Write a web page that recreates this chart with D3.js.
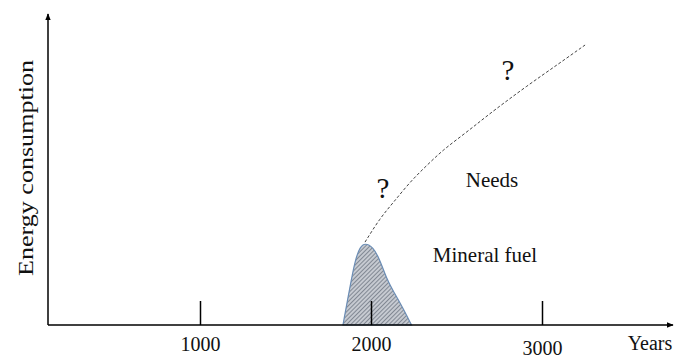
<!DOCTYPE html>
<html>
<head>
<meta charset="utf-8">
<script src="https://cdn.jsdelivr.net/npm/d3@7"></script>
<style>
  body { margin: 0; background: #fff; }
  text { font-family: "Liberation Serif", "Times New Roman", serif; fill: #111; }
</style>
</head>
<body>
<script>
// tick years on the time axis
const tickYears = [1000, 2000, 3000];

// fossil ("mineral") fuel hump: years and relative consumption
const fuelYears = [1833, 1874, 1904, 1933, 1962, 2009, 2050, 2091, 2134, 2181, 2234];
const fuelValues = [0, 13.6, 23.2, 27.9, 29.3, 27.9, 23.2, 16.1, 11.4, 6.4, 0];

// projected needs (dashed curve)
const needYears = [1962, 2050, 2126, 2225, 2325, 2418, 2518, 2623, 2711, 2909, 3102, 3249];
const needValues = [29.6, 38.2, 43.6, 51.1, 57.1, 62.5, 67.1, 72.1, 76.4, 85.4, 93.6, 100];

const width = 675, height = 360;

const x = d3.scaleLinear().domain([1000, 3000]).range([200.5, 542.5]);
const y = d3.scaleLinear().domain([0, 100]).range([325, 45]);

const x0 = 48, y0 = 325;

const svg = d3.select("body").append("svg")
    .attr("width", width)
    .attr("height", height);

const defs = svg.append("defs");

const hatch = defs.append("pattern")
    .attr("id", "hatch")
    .attr("patternUnits", "userSpaceOnUse")
    .attr("width", 3)
    .attr("height", 3)
    .attr("patternTransform", "rotate(45)");
hatch.append("rect")
    .attr("width", 3).attr("height", 3)
    .attr("fill", "#c6cad1");
hatch.append("line")
    .attr("x1", 0).attr("y1", 0).attr("x2", 0).attr("y2", 3)
    .attr("stroke", "#5b6472")
    .attr("stroke-width", 1.3);

defs.append("marker")
    .attr("id", "arrow")
    .attr("viewBox", "0 0 10 10")
    .attr("refX", 9).attr("refY", 5)
    .attr("markerWidth", 7).attr("markerHeight", 7)
    .attr("markerUnits", "userSpaceOnUse")
    .attr("orient", "auto")
  .append("path")
    .attr("d", "M0,1L10,5L0,9Z")
    .attr("fill", "#000");

// fuel hump
const fuelData = fuelYears.map((d, i) => ({year: d, value: fuelValues[i]}));
const area = d3.area()
    .x(d => x(d.year))
    .y0(y(0))
    .y1(d => y(d.value))
    .curve(d3.curveBasis);
svg.append("path")
    .datum(fuelData)
    .attr("d", area)
    .attr("fill", "url(#hatch)")
    .attr("stroke", "#6b8db5")
    .attr("stroke-width", 1.2);

// tick marks (drawn upward from the axis)
svg.selectAll(".tick-mark")
    .data(tickYears)
    .enter().append("line")
    .attr("class", "tick-mark")
    .attr("x1", d => x(d)).attr("x2", d => x(d))
    .attr("y1", y0).attr("y2", y0 - 24)
    .attr("stroke", "#000")
    .attr("stroke-width", 1.5);

const labelDy = [26, 26, 30];
svg.selectAll(".tick-label")
    .data(tickYears)
    .enter().append("text")
    .attr("class", "tick-label")
    .attr("x", d => x(d))
    .attr("y", (d, i) => y0 + labelDy[i])
    .attr("text-anchor", "middle")
    .style("font-size", "20px")
    .text(d => d);

// axes
svg.append("line")
    .attr("x1", x0).attr("y1", y0)
    .attr("x2", 673).attr("y2", y0)
    .attr("stroke", "#000").attr("stroke-width", 1.5)
    .attr("marker-end", "url(#arrow)");
svg.append("line")
    .attr("x1", x0).attr("y1", y0)
    .attr("x2", x0).attr("y2", 14)
    .attr("stroke", "#000").attr("stroke-width", 1.5)
    .attr("marker-end", "url(#arrow)");

// needs curve
const needData = needYears.map((d, i) => ({year: d, value: needValues[i]}));
const line = d3.line()
    .x(d => x(d.year))
    .y(d => y(d.value))
    .curve(d3.curveBasis);
svg.append("path")
    .datum(needData)
    .attr("d", line)
    .attr("fill", "none")
    .attr("stroke", "#444")
    .attr("stroke-width", 1)
    .attr("stroke-dasharray", "3,2");

// labels
svg.append("text")
    .attr("x", 650).attr("y", 350)
    .attr("text-anchor", "middle")
    .style("font-size", "20px")
    .text("Years");

svg.append("text")
    .attr("transform", "translate(33,168) rotate(-90)")
    .attr("text-anchor", "middle")
    .attr("textLength", 216)
    .attr("lengthAdjust", "spacingAndGlyphs")
    .style("font-size", "21px")
    .text("Energy consumption");

svg.append("text")
    .attr("x", 492).attr("y", 187)
    .attr("text-anchor", "middle")
    .style("font-size", "21px")
    .text("Needs");

svg.append("text")
    .attr("x", 485).attr("y", 262)
    .attr("text-anchor", "middle")
    .style("font-size", "21px")
    .text("Mineral fuel");

svg.append("text")
    .attr("x", 383).attr("y", 198)
    .attr("text-anchor", "middle")
    .style("font-size", "29px")
    .text("?");

svg.append("text")
    .attr("x", 508).attr("y", 80)
    .attr("text-anchor", "middle")
    .style("font-size", "29px")
    .text("?");
</script>
</body>
</html>
